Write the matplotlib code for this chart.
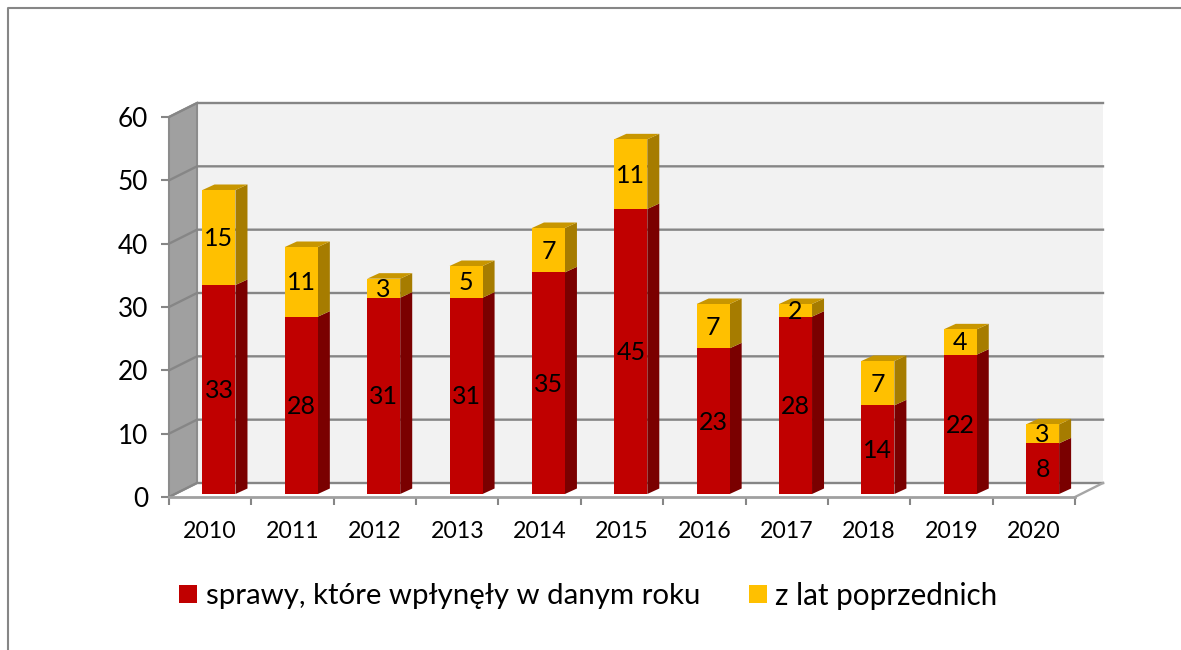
import matplotlib
matplotlib.use("Agg")
import matplotlib.pyplot as plt
from matplotlib.patches import Polygon, Rectangle
from matplotlib.lines import Line2D

years = ["2010","2011","2012","2013","2014","2015","2016","2017","2018","2019","2020"]
current = [33,28,31,31,35,45,23,28,14,22,8]
previous = [15,11,3,5,7,11,7,2,7,4,3]
yticks = [0,10,20,30,40,50,60]
series_names = ["sprawy, które wpłynęły w danym roku", "z lat poprzednich"]

W, H = 1181, 650
plt.rcParams['font.family'] = ['Lato', 'DejaVu Sans']
fig = plt.figure(figsize=(W/100, H/100), dpi=100, facecolor='white')

# frame of the chart area: left and top edges only are inside the picture
fig.add_artist(Line2D([7.5/W, 7.5/W, 1], [0, 1-7.5/H, 1-7.5/H], color='#868686', lw=1.5))

x0, x1, y0, y1 = 169, 1075, 497, 117
ax = fig.add_axes([x0/W, 1-y0/H, (x1-x0)/W, (y0-y1)/H])
ax.set_xlim(-0.5, 10.5)
ax.set_ylim(0, 60)
ax.patch.set_visible(False)
for s in ax.spines.values():
    s.set_visible(False)
ux = (x1-x0)/11
uy = (y0-y1)/60
dx, dy = 28/ux, 14/uy         # wall depth
bdx, bdy = 12/ux, 5.5/uy      # bar depth
ox, oy = 8.8/ux, 3/uy         # bar offset from the front plane
bw = 33/ux
GRID = '#868686'
kw = dict(clip_on=False)

xl, xr = -0.5, 10.5
ax.add_patch(Polygon([(xl+dx,dy),(xr+dx,dy),(xr+dx,60+dy),(xl+dx,60+dy)], fc='#f2f2f2', ec='none', zorder=1, **kw))
ax.add_patch(Polygon([(xl,0),(xl+dx,dy),(xl+dx,60+dy),(xl,60)], fc='#a0a0a0', ec='#8c8c8c', lw=1.5, zorder=1, **kw))
for v in yticks:
    ax.plot([xl, xl+dx, xr+dx], [v, v+dy, v+dy], color=GRID, lw=1.7, zorder=2, solid_joinstyle='miter', **kw)
ax.plot([xr, xr+dx], [0, dy], color='#a6a6a6', lw=1.7, zorder=2, **kw)
ax.plot([xl, xr], [0, 0], color='#a0a0a0', lw=2, zorder=2, **kw)

for i in range(11):
    c, p = current[i], previous[i]
    xa, xb = i+ox-bw/2, i+ox+bw/2
    for b, h, front, side in [(0, c, '#c00000', '#7a0000'), (c, p, '#ffc000', '#a67c00')]:
        ax.bar(i+ox, h, bw, bottom=b+oy, color=front, zorder=4, **kw)
        ax.add_patch(Polygon([(xb,b+oy),(xb+bdx,b+oy+bdy),(xb+bdx,b+h+oy+bdy),(xb,b+h+oy)], fc=side, ec='none', zorder=3, **kw))
    t = c+p+oy
    ax.add_patch(Polygon([(xa,t),(xb,t),(xb+bdx,t+bdy),(xa+bdx,t+bdy)], fc='#c89600', ec='none', zorder=3, **kw))
    ax.text(i+ox, oy+c/2-0.15, str(c), ha='center', va='center', fontsize=18, color='black', zorder=5)
    ax.text(i+ox, oy+c+p/2-0.15, str(p), ha='center', va='center', fontsize=18, color='black', zorder=5)

ax.set_xticks([k-0.5 for k in range(12)], [''] * 12)
ax.set_yticks(yticks)
ax.tick_params(axis='y', length=6, width=1.5, color=GRID, labelsize=18.8, pad=9)
ax.tick_params(axis='x', length=6, width=1.5, color=GRID, direction='out')
for i, y in enumerate(years):
    ax.annotate(y, (i, 0), xytext=(0, -24.5), textcoords='offset points', ha='center', va='center', fontsize=16.7, annotation_clip=False)

fig.text(206/W, 1-596/H, series_names[0], fontsize=21.15, va='center', ha='left')
fig.text(775/W, 1-596/H, series_names[1], fontsize=21.3, va='center', ha='left')
fig.add_artist(Rectangle((179/W, 1-603/H), 18/W, 18/H, fc='#c00000', ec='none', transform=fig.transFigure))
fig.add_artist(Rectangle((749/W, 1-603/H), 18/W, 18/H, fc='#ffc000', ec='none', transform=fig.transFigure))

fig.savefig("out.png", dpi=100)
